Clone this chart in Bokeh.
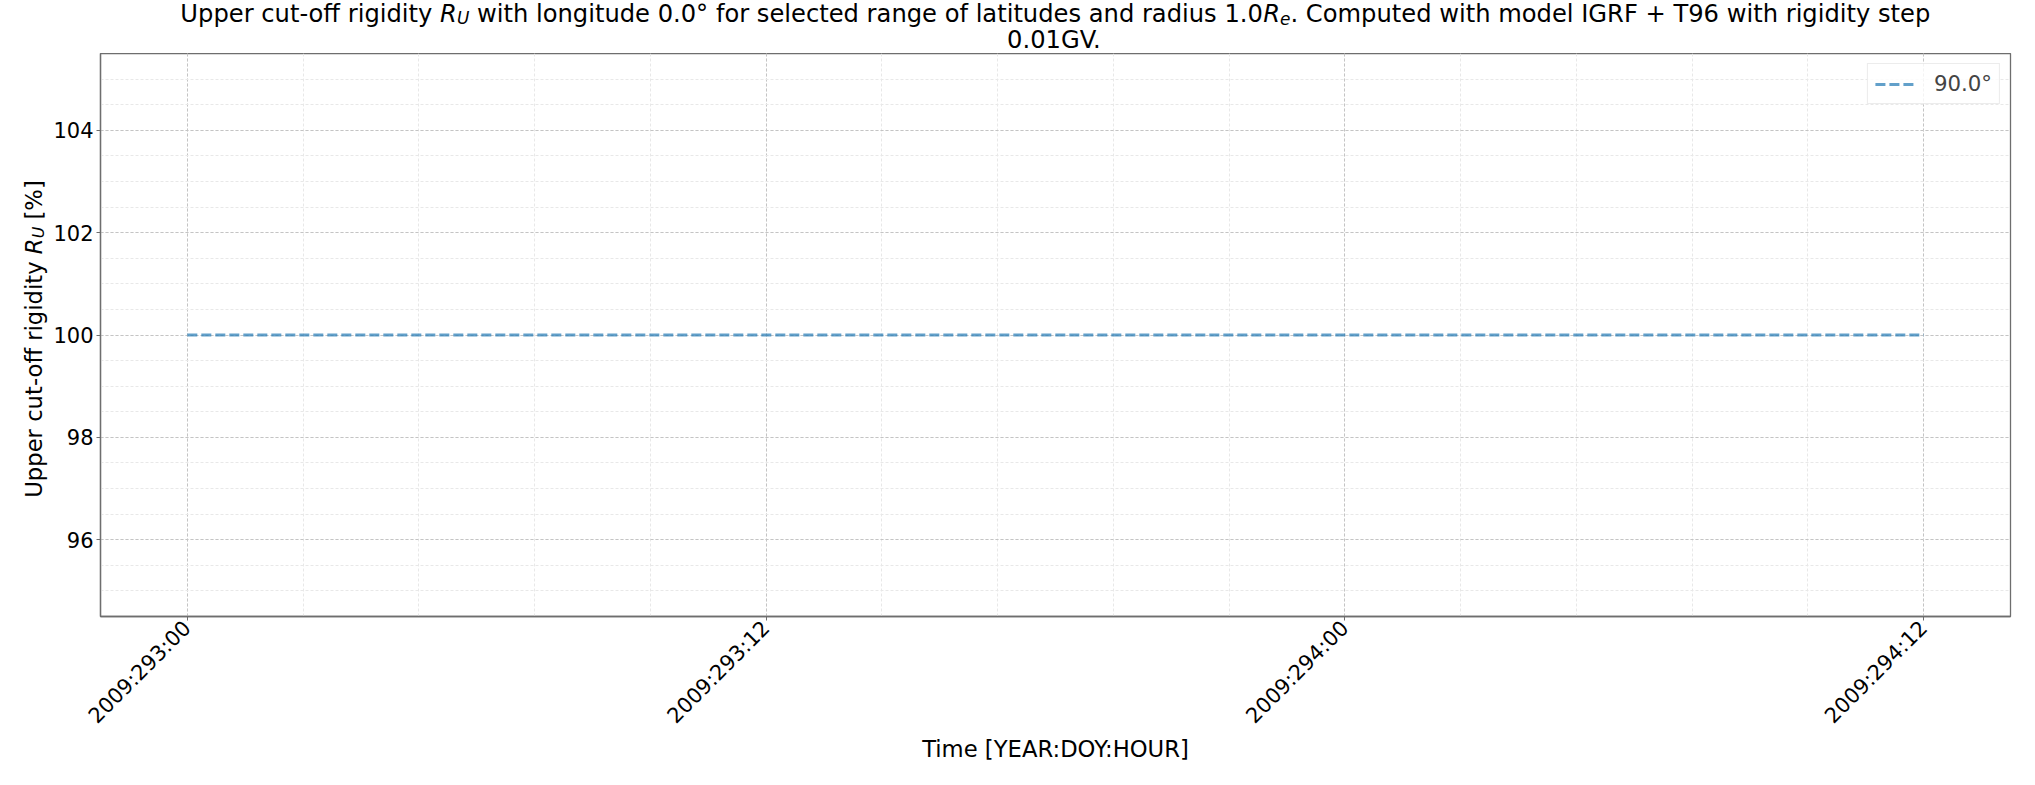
import math
import numpy as np
from bokeh.plotting import figure
from bokeh.layouts import column, row
from bokeh.models import Range1d, FixedTicker, ColumnDataSource
from bokeh.core.properties import value
from bokeh.embed import file_html
from bokeh.resources import INLINE

# ---------------- data ----------------
time_hours = [0, 3, 6, 9, 12, 15, 18, 21, 24, 27, 30, 33, 36]   # hours after 2009:293:00
rigidity_pct = [100.0, 100.0, 100.0, 100.0, 100.0, 100.0, 100.0,
                100.0, 100.0, 100.0, 100.0, 100.0, 100.0]
series_label = "90.0°"
x_tick_hours = [0, 12, 24, 36]
x_tick_labels = ["2009:293:00", "2009:293:12", "2009:294:00", "2009:294:12"]
y_ticks = [96, 98, 100, 102, 104]

FONT = "DejaVu Sans"
W_CANVAS, H_CANVAS = 2035, 785
TITLE_H = 53          # height of the title strip
YLAB_W = 48           # width of the y-label strip
FL, FR, FT, FB = 100, 2010, 53, 616   # frame edges (canvas px)
BASELINE_FIX = 6.5    # renderer draws alphabetic baseline this much lower

# ---------------- main plot ----------------
p = figure(width=W_CANVAS - YLAB_W, height=H_CANVAS - TITLE_H, output_backend="svg",
           toolbar_location=None, title=None,
           x_range=Range1d(-1.8, 37.8), y_range=Range1d(94.5, 105.5),
           min_border_left=FL - YLAB_W, min_border_right=W_CANVAS - FR,
           min_border_top=FT - TITLE_H, min_border_bottom=H_CANVAS - FB)
p.background_fill_color = "white"
p.border_fill_color = "white"
p.outline_line_color = "#6e6e6e"
p.outline_line_width = 1.3

xmin = [round(v, 3) for v in np.arange(0, 37.8, 2.4)]
ymin = [round(v, 3) for v in np.arange(95.0, 105.5, 0.5)]
p.xaxis.ticker = FixedTicker(ticks=x_tick_hours, minor_ticks=xmin)
p.yaxis.ticker = FixedTicker(ticks=y_ticks, minor_ticks=ymin)
p.xaxis.major_label_overrides = {h: lab for h, lab in zip(x_tick_hours, x_tick_labels)}
p.xaxis.major_label_orientation = math.pi / 4

for ax in (p.xaxis[0], p.yaxis[0]):
    ax.axis_line_color = "#6e6e6e"
    ax.axis_line_width = 1.3
    ax.major_tick_line_color = "#6e6e6e"
    ax.major_tick_out = 4
    ax.major_tick_in = 0
    ax.minor_tick_line_color = None
    ax.major_label_text_font = FONT
    ax.major_label_text_font_size = "21px"
    ax.major_label_text_color = "black"
    ax.axis_label_text_font = FONT
    ax.axis_label_text_font_size = "22.7px"
    ax.axis_label_text_font_style = "normal"
    ax.axis_label_text_color = "black"

p.xaxis.axis_label = "Time [YEAR:DOY:HOUR]"
p.xaxis.major_label_standoff = 4
p.xaxis.axis_label_standoff = -4
p.yaxis.major_label_standoff = 3

for g in (p.xgrid[0], p.ygrid[0]):
    g.grid_line_color = "#c4c4c4"
    g.grid_line_dash = "3 2"
    g.grid_line_width = 1
    g.minor_grid_line_color = "#e8e8e8"
    g.minor_grid_line_dash = "3 2"
    g.minor_grid_line_width = 1

p.line(time_hours, rigidity_pct, line_color="#1f77b4", line_alpha=0.7, line_width=2.8,
       line_dash="10 4", legend_label=series_label)

lg = p.legend[0]
lg.location = "top_right"
lg.label_text_font = FONT
lg.label_text_font_size = "21.3px"
lg.label_standoff = 18
lg.glyph_width = 41
lg.glyph_height = 24
lg.padding = 7
lg.margin = 10
lg.border_line_color = "#d9d9d9"
lg.border_line_width = 1
lg.background_fill_color = "white"
lg.background_fill_alpha = 0.8

# ---------------- rich text helpers ----------------
ADV = {' ': 651, '.': 651, ',': 651, ':': 690, '-': 739, '+': 1716, '[': 799, ']': 799,
       '%': 1946, '°': 1024, '0': 1303, '1': 1303, '2': 1303, '3': 1303, '4': 1303, '5': 1303,
       '6': 1303, '7': 1303, '8': 1303, '9': 1303,
       'A': 1401, 'C': 1430, 'D': 1577, 'E': 1294, 'F': 1178, 'G': 1587, 'H': 1540,
       'I': 604, 'O': 1612, 'R': 1423, 'T': 1251, 'U': 1499, 'V': 1401, 'Y': 1251,
       'a': 1255, 'b': 1300, 'c': 1126, 'd': 1300, 'e': 1260, 'f': 721, 'g': 1300, 'h': 1298,
       'i': 569, 'k': 1186, 'l': 569, 'm': 1995, 'n': 1298, 'o': 1253, 'p': 1300, 'r': 842,
       's': 1067, 't': 803, 'u': 1298, 'v': 1212, 'w': 1675, 'x': 1212, 'y': 1212, 'z': 1075}


def text_w(s, size):
    return sum(ADV.get(c, 1250) for c in s) / 2048.0 * size


def layout_pieces(pieces, cx, cy, size, vertical=False):
    """Return columns for pieces centred on canvas point (cx, cy) (baseline at cy)."""
    cols = dict(x=[], y=[], text=[], size=[], style=[])
    sizes = [size * 0.7 if k == "sub" else size for _, k in pieces]
    widths = [text_w(t, s) for (t, _), s in zip(pieces, sizes)]
    pos = -sum(widths) / 2.0
    for (t, k), s, w in zip(pieces, sizes, widths):
        lead = len(t) - len(t.lstrip(" "))
        start = pos + text_w(" " * lead, s)
        drop = size * 0.2 if k == "sub" else 0.0
        if vertical:
            cols["x"].append(cx + drop - BASELINE_FIX)
            cols["y"].append(cy - start)
        else:
            cols["x"].append(cx + start)
            cols["y"].append(cy + drop - BASELINE_FIX)
        cols["text"].append(t.strip(" "))
        cols["size"].append(f"{s:.2f}px")
        cols["style"].append("normal" if k == "n" else "italic")
        pos += w
    return cols


def strip(width, height, x0, x1, y0, y1, bt=0, bb=0):
    f = figure(width=width, height=height, output_backend="svg", toolbar_location=None,
               title=None, x_range=Range1d(x0, x1), y_range=Range1d(y0, y1),
               x_axis_location=None, y_axis_location=None,
               min_border_left=0, min_border_right=0, min_border_top=bt, min_border_bottom=bb)
    f.outline_line_color = None
    f.background_fill_color = "white"
    f.border_fill_color = "white"
    f.grid.visible = False
    return f


title_line1 = [("Upper cut-off rigidity ", "n"), ("R", "i"), ("U", "sub"),
               (" with longitude 0.0° for selected range of latitudes and radius 1.0", "n"),
               ("R", "i"), ("e", "sub"),
               (". Computed with model IGRF + T96 with rigidity step", "n")]
title_line2 = [("0.01GV.", "n")]
ylabel_pieces = [("Upper cut-off rigidity ", "n"), ("R", "i"), ("U", "sub"), (" [%]", "n")]

cx = (FL + FR) / 2.0
t1 = layout_pieces(title_line1, cx, 19.5, 24.2)
t2 = layout_pieces(title_line2, cx, 45.5, 24.2)
title_src = ColumnDataSource({k: t1[k] + t2[k] for k in t1})

title_fig = strip(W_CANVAS, TITLE_H, 0, W_CANVAS, TITLE_H, 0)
title_fig.text(x="x", y="y", text="text", source=title_src, text_font=value(FONT),
               text_font_size="size", text_font_style="style", text_color="black",
               text_align="left", text_baseline="alphabetic")

yl = layout_pieces(ylabel_pieces, 40, (FT + FB) / 2.0 + 4, 22.7, vertical=True)
ylab_src = ColumnDataSource(yl)
ylab_fig = strip(YLAB_W, H_CANVAS - TITLE_H, 0, YLAB_W, FB, FT,
                 bt=FT - TITLE_H, bb=H_CANVAS - FB)
ylab_fig.text(x="x", y="y", text="text", source=ylab_src, text_font=value(FONT),
              text_font_size="size", text_font_style="style", text_color="black",
              text_align="left", text_baseline="alphabetic", angle=math.pi / 2)

layout = column(title_fig, row(ylab_fig, p, spacing=0), spacing=0)
open("out.html", "w").write(file_html(layout, INLINE))
